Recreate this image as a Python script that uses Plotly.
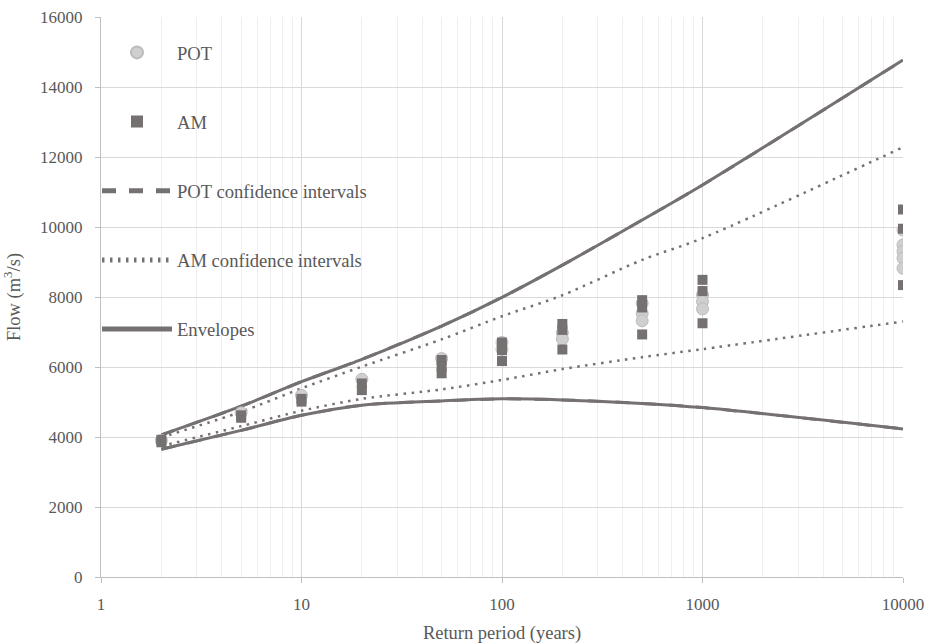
import plotly.graph_objects as go

# ---------------- data ----------------
return_periods = [2, 5, 10, 20, 50, 100, 200, 500, 1000, 10000]

pot_ci_upper = [4060, 4880, 5580, 6220, 7170, 7990, 8910, 10200, 11200, 14770]
pot_ci_lower = [3650, 4190, 4620, 4910, 5030, 5090, 5060, 4960, 4840, 4230]
am_ci_upper = [3990, 4720, 5390, 6010, 6790, 7450, 8050, 9060, 9680, 12280]
am_ci_lower = [3740, 4310, 4750, 5090, 5360, 5630, 5940, 6280, 6510, 7300]

pot_T = [2, 5, 10, 20, 50, 100, 100, 200, 200, 500, 500, 500,
         1000, 1000, 1000, 10000, 10000, 10000, 10000, 10000]
pot_Q = [3900, 4690, 5190, 5650, 6240, 6700, 6510, 6980, 6800, 7820, 7530, 7320,
         8060, 7870, 7660, 9910, 9490, 9300, 9110, 8820]

am_T = [2, 2, 5, 5, 10, 10, 20, 20, 50, 50, 50, 100, 100, 100,
        200, 200, 200, 500, 500, 500, 1000, 1000, 1000, 10000, 10000, 10000]
am_Q = [3920, 3850, 4620, 4550, 5090, 5010, 5530, 5340, 6200, 6010, 5820, 6700, 6480, 6170,
        7230, 7060, 6500, 7910, 7700, 6930, 8490, 8170, 7250, 10500, 9950, 8340]

y_ticks = [0, 2000, 4000, 6000, 8000, 10000, 12000, 14000, 16000]
x_ticks = [1, 10, 100, 1000, 10000]

# envelopes: outermost of the confidence intervals
env_upper = [max(a, b) for a, b in zip(pot_ci_upper, am_ci_upper)]
env_lower = [min(a, b) for a, b in zip(pot_ci_lower, am_ci_lower)]

# ---------------- style ----------------
DARK = "#767171"
LIGHT = "#d0cece"
TXT = "#595959"
FONT = "Liberation Serif, Times New Roman, Times, serif"

fig = go.Figure()

def line_trace(y, name, dash, width, group, show, rank):
    return go.Scatter(
        x=return_periods, y=y, mode="lines", name=name,
        line=dict(color=DARK, width=width, dash=dash, shape="spline", smoothing=0.8),
        legendgroup=group, showlegend=show, legendrank=rank, hoverinfo="skip",
    )

fig.add_trace(line_trace(pot_ci_upper, "POT confidence intervals", "14px,13px", 3, "potci", True, 3))
fig.add_trace(line_trace(pot_ci_lower, "POT confidence intervals", "14px,13px", 3, "potci", False, 3))
fig.add_trace(line_trace(am_ci_upper, "AM confidence intervals", "2.5px,5.5px", 2.5, "amci", True, 4))
fig.add_trace(line_trace(am_ci_lower, "AM confidence intervals", "2.5px,5.5px", 2.5, "amci", False, 4))
fig.add_trace(line_trace(env_upper, "Envelopes", "solid", 3, "env", True, 5))
fig.add_trace(line_trace(env_lower, "Envelopes", "solid", 3, "env", False, 5))

fig.add_trace(go.Scatter(
    x=pot_T, y=pot_Q, mode="markers", name="POT",
    marker=dict(symbol="circle", size=12, color=LIGHT, line=dict(color="#bdbcbc", width=1)),
    legendgroup="pot", legendrank=1,
))
fig.add_trace(go.Scatter(
    x=am_T, y=am_Q, mode="markers", name="AM",
    marker=dict(symbol="square", size=10, color=DARK, line=dict(width=0)),
    legendgroup="am", legendrank=2,
))

fig.update_layout(
    width=929, height=644,
    margin=dict(l=101, r=26, t=17, b=67, autoexpand=False),
    paper_bgcolor="white", plot_bgcolor="white",
    font=dict(family=FONT, size=17, color=TXT),
    legend=dict(
        x=-0.005, y=0.970, xanchor="left", yanchor="top",
        bgcolor="rgba(0,0,0,0)", borderwidth=0,
        font=dict(family=FONT, size=18.6, color=TXT),
        tracegroupgap=42, itemwidth=70, itemsizing="constant",
        traceorder="grouped",
    ),
    xaxis=dict(
        type="log", range=[0, 4], automargin=False,
        tickvals=x_ticks, ticktext=[str(v) for v in x_ticks],
        showgrid=True, gridcolor="#d9d9d9", gridwidth=1,
        minor=dict(dtick="D1", showgrid=True, gridcolor="#efefef", gridwidth=1, ticks=""),
        showline=True, linecolor="#bfbfbf", linewidth=1,
        ticks="outside", ticklen=5, tickcolor="#bfbfbf",
        ticklabelstandoff=7,
        tickfont=dict(family=FONT, size=17, color=TXT),
        title=dict(text="Return period (years)", font=dict(family=FONT, size=18.5, color=TXT), standoff=13),
        zeroline=False,
    ),
    yaxis=dict(
        range=[0, 16000], automargin=False,
        tickvals=y_ticks, ticktext=[str(v) for v in y_ticks],
        showgrid=True, gridcolor="#d9d9d9", gridwidth=1,
        showline=True, linecolor="#bfbfbf", linewidth=1,
        ticks="outside", ticklen=5, tickcolor="#bfbfbf",
        ticklabelstandoff=9,
        tickfont=dict(family=FONT, size=17, color=TXT),
        title=dict(text="Flow (m<sup>3</sup>/s)", font=dict(family=FONT, size=18.5, color=TXT), standoff=14),
        zeroline=False,
    ),
)

fig.write_html("out.html")
